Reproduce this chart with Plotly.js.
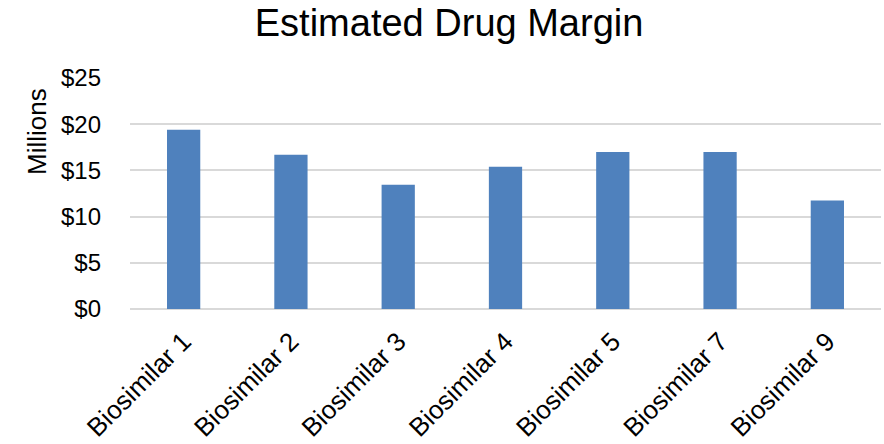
<!DOCTYPE html>
<html>
<head>
<meta charset="utf-8">
<script src="https://cdn.plot.ly/plotly-3.0.1.min.js"></script>
<style>html,body{margin:0;padding:0;background:#fff;}#chart{width:884px;height:444px;}</style>
</head>
<body>
<div id="chart"></div>
<script>
const categories = ["Biosimilar 1", "Biosimilar 2", "Biosimilar 3", "Biosimilar 4", "Biosimilar 5", "Biosimilar 7", "Biosimilar 9"];
const margins = [19.4, 16.7, 13.45, 15.4, 17.0, 17.0, 11.75];
const yTicks = [0, 5, 10, 15, 20, 25];
const yTickLabels = ["$0", "$5", "$10", "$15", "$20", "$25"];
const yAxisTitle = "Millions";
const chartTitle = "Estimated Drug Margin";

const font = "Liberation Sans, Arial, sans-serif";
Plotly.newPlot("chart", [{
  type: "bar",
  x: categories,
  y: margins,
  marker: {color: "#4f81bd"},
  hoverinfo: "x+y"
}], {
  width: 884, height: 444,
  margin: {l: 130, r: 3, t: 78, b: 135},
  paper_bgcolor: "#fff", plot_bgcolor: "#fff",
  bargap: 0.69,
  title: {text: chartTitle, font: {family: font, size: 38, color: "#000"}, x: 0.508, xanchor: "center", y: 0.948, yanchor: "middle"},
  xaxis: {
    tickangle: -45,
    tickfont: {family: font, size: 26, color: "#000"},
    showgrid: false, showline: false, ticks: "",
    ticklabelstandoff: 11
  },
  yaxis: {
    range: [0, 25],
    tickvals: yTicks, ticktext: yTickLabels,
    tickfont: {family: font, size: 24, color: "#000"},
    gridcolor: "#d9d9d9", gridwidth: 2,
    zeroline: true, zerolinecolor: "#d9d9d9", zerolinewidth: 2,
    showline: false, ticks: "",
    ticklabelstandoff: 28
  },
  annotations: [{
    text: yAxisTitle, textangle: -90, showarrow: false,
    xref: "paper", yref: "paper", x: -0.124, y: 0.77,
    xanchor: "center", yanchor: "middle",
    font: {family: font, size: 26, color: "#000"}
  }],
  showlegend: false
}, {displayModeBar: false, staticPlot: true});
</script>
</body>
</html>
